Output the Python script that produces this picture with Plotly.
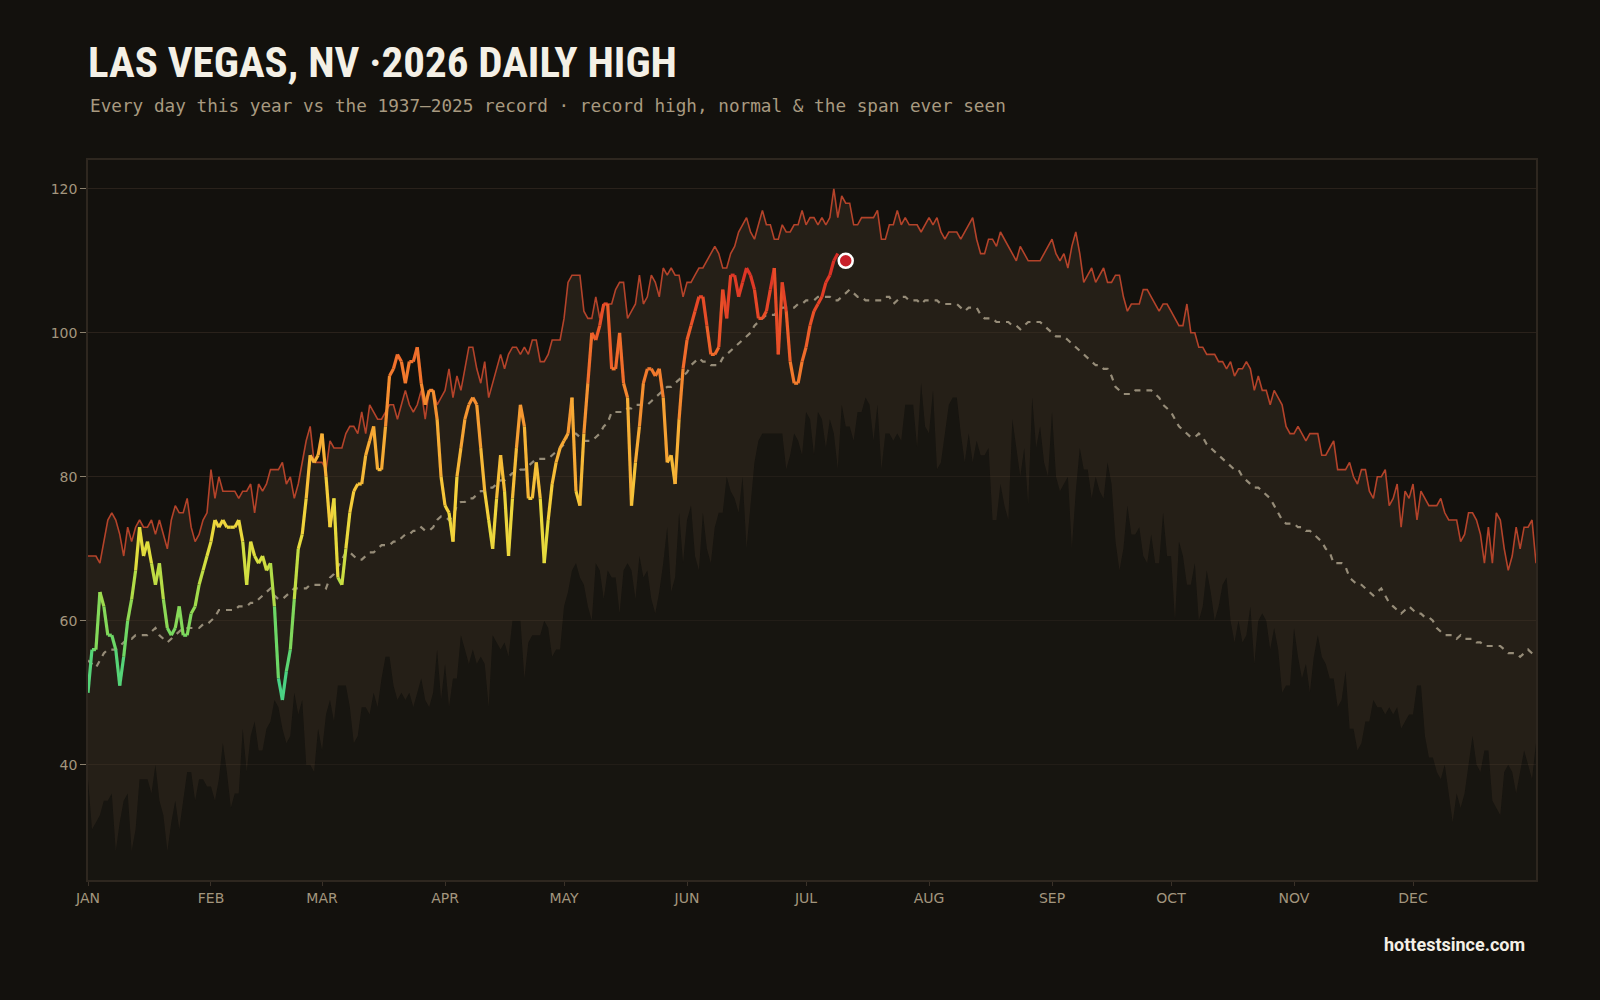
import plotly.graph_objects as go
from plotly.colors import sample_colorscale

# ---------------- data ----------------
MONTH_STARTS = [0, 31, 59, 90, 120, 151, 181, 212, 243, 273, 304, 334]
MONTH_LABELS = ["JAN", "FEB", "MAR", "APR", "MAY", "JUN",
                "JUL", "AUG", "SEP", "OCT", "NOV", "DEC"]

DAY_OF_YEAR = list(range(366))

RECORD_HIGH = [
    69, 69, 69, 68, 71, 74, 75, 74, 72, 69,
    73, 71, 73, 74, 73, 73, 74, 72, 74, 72,
    70, 74, 76, 75, 75, 77, 73, 71, 72, 74,
    75, 81, 77, 80, 78, 78, 78, 78, 77, 78,
    78, 79, 75, 79, 78, 79, 81, 81, 81, 82,
    79, 80, 77, 79, 82, 85, 87, 82, 82, 82,
    81, 85, 84, 84, 84, 86, 87, 87, 86, 89,
    86, 90, 89, 88, 88, 89, 90, 90, 88, 90,
    92, 90, 89, 90, 92, 88, 92, 92, 90, 91,
    92, 95, 91, 94, 92, 95, 98, 98, 95, 93,
    96, 91, 93, 95, 97, 95, 97, 98, 98, 97,
    98, 97, 99, 99, 96, 96, 97, 99, 99, 99,
    102, 107, 108, 108, 108, 103, 102, 102, 105, 102,
    104, 104, 104, 106, 107, 107, 102, 103, 104, 108,
    104, 105, 108, 107, 105, 109, 108, 109, 108, 108,
    105, 107, 107, 108, 109, 109, 110, 111, 112, 111,
    109, 109, 111, 112, 114, 115, 116, 114, 113, 115,
    117, 115, 115, 113, 113, 115, 114, 114, 115, 115,
    117, 115, 116, 116, 115, 116, 115, 116, 120, 116,
    119, 118, 118, 115, 115, 116, 116, 116, 116, 117,
    113, 113, 115, 115, 117, 115, 116, 115, 115, 115,
    114, 115, 116, 115, 116, 114, 113, 114, 114, 114,
    113, 114, 115, 116, 113, 111, 111, 113, 113, 112,
    114, 113, 112, 111, 110, 112, 111, 110, 110, 110,
    110, 111, 112, 113, 111, 110, 111, 109, 112, 114,
    111, 107, 108, 109, 107, 108, 109, 107, 107, 108,
    108, 105, 103, 104, 104, 104, 106, 106, 105, 104,
    103, 104, 104, 103, 102, 101, 101, 104, 100, 100,
    98, 98, 97, 97, 97, 96, 96, 95, 96, 94,
    95, 95, 96, 95, 92, 94, 92, 92, 90, 92,
    91, 90, 87, 86, 86, 87, 86, 85, 86, 86,
    86, 83, 83, 84, 85, 81, 81, 81, 82, 80,
    79, 81, 81, 78, 77, 80, 80, 81, 76, 77,
    79, 73, 78, 77, 79, 74, 78, 77, 76, 76,
    76, 77, 75, 74, 74, 74, 71, 72, 75, 75,
    74, 72, 68, 73, 68, 75, 74, 70, 67, 69,
    73, 70, 73, 73, 74, 68,
]

RECORD_LOW = [
    38, 31, 32, 33, 35, 35, 36, 28, 32, 35,
    36, 28, 31, 38, 38, 38, 36, 40, 35, 33,
    28, 32, 35, 31, 35, 39, 39, 35, 38, 38,
    37, 37, 35, 38, 43, 39, 34, 36, 36, 45,
    39, 44, 46, 42, 42, 45, 46, 49, 48, 45,
    43, 44, 50, 47, 49, 40, 40, 39, 45, 42,
    47, 49, 46, 51, 51, 51, 48, 43, 44, 48,
    48, 47, 50, 48, 52, 55, 55, 51, 49, 50,
    49, 50, 48, 50, 52, 49, 48, 50, 56, 49,
    54, 48, 52, 52, 58, 56, 54, 56, 54, 55,
    54, 48, 58, 57, 56, 57, 55, 60, 60, 60,
    52, 57, 58, 58, 58, 60, 59, 55, 56, 56,
    62, 64, 67, 68, 66, 65, 62, 60, 68, 67,
    63, 67, 66, 66, 61, 67, 68, 67, 63, 69,
    66, 67, 63, 61, 64, 68, 73, 64, 66, 75,
    68, 74, 76, 69, 67, 75, 70, 68, 73, 75,
    75, 80, 78, 77, 75, 80, 70, 76, 82, 85,
    86, 86, 86, 86, 86, 86, 81, 83, 86, 85,
    83, 89, 88, 83, 89, 88, 84, 88, 86, 81,
    90, 87, 87, 85, 89, 89, 91, 90, 85, 90,
    81, 86, 86, 85, 86, 85, 90, 90, 90, 84,
    93, 87, 86, 92, 81, 82, 86, 90, 91, 91,
    86, 82, 86, 82, 85, 83, 83, 84, 74, 74,
    79, 76, 74, 88, 84, 80, 84, 76, 91, 84,
    87, 82, 80, 89, 80, 78, 79, 80, 70, 78,
    84, 81, 81, 77, 80, 78, 77, 82, 79, 71,
    67, 70, 76, 72, 72, 73, 69, 68, 72, 68,
    68, 75, 69, 69, 60, 71, 69, 65, 65, 68,
    60, 62, 67, 64, 60, 62, 65, 66, 60, 57,
    60, 57, 58, 62, 54, 60, 61, 60, 56, 59,
    56, 50, 51, 51, 59, 55, 52, 54, 50, 55,
    58, 55, 54, 52, 52, 48, 49, 53, 45, 45,
    42, 43, 46, 46, 49, 48, 48, 47, 48, 47,
    48, 45, 46, 47, 47, 51, 51, 44, 41, 41,
    39, 38, 40, 36, 32, 36, 34, 36, 40, 44,
    40, 39, 42, 42, 35, 34, 33, 39, 40, 39,
    36, 39, 42, 40, 38, 43,
]

NORMAL_HIGH = [
    54.5, 54, 53.5, 54.5, 55.5, 56, 56, 56, 56.5, 57,
    57.5, 57.5, 58, 58, 58, 58, 58.5, 59, 58, 57.5,
    57, 57.5, 58, 58.5, 59, 59, 59, 59, 59, 59.5,
    59.5, 60, 60.5, 61.5, 61.5, 61.5, 61.5, 61.5, 62, 62,
    62, 62.5, 62.5, 63, 63.5, 64, 64.5, 63.5, 63, 63,
    63.5, 64, 64.5, 64.5, 64.5, 64.5, 65, 65, 65, 65,
    64.5, 66, 66.5, 67.5, 68.5, 69.5, 69.5, 69, 68.5, 68.5,
    69, 69.5, 69.5, 70, 70.5, 70.5, 70.5, 71, 71, 71.5,
    72, 72, 72.5, 72.5, 73, 72.5, 72.5, 73, 74, 74.5,
    74.5, 74, 74.5, 76, 76.5, 76.5, 77, 77, 77.5, 78,
    78, 78.5, 78.5, 79, 79.5, 79.5, 80, 80.5, 80.5, 81,
    81, 81.5, 82, 82.5, 82.5, 82.5, 82.5, 83, 83.5, 84,
    84.5, 86, 86, 86, 85.5, 85, 85, 85, 85.5, 86,
    87, 87.5, 89, 89, 89, 89, 89.5, 89.5, 90, 90,
    90, 90, 90.5, 91, 91.5, 92, 92.5, 92.5, 93, 93.5,
    94, 94.5, 95.5, 96, 96.5, 96, 96, 95.5, 95.5, 95.5,
    96.5, 97, 97.5, 98, 98.5, 99, 99.5, 100, 101, 101.5,
    102, 102.5, 102.5, 102.5, 103, 103.5, 103.5, 103.5, 103.5, 104,
    104, 104.5, 104.5, 104.5, 105, 105, 105, 105, 104.5, 104.5,
    105, 105.5, 106, 105.5, 105, 105, 104.5, 104.5, 104.5, 104.5,
    104.5, 105, 105, 104, 104.5, 105, 105, 104.5, 104.5, 104.5,
    104, 104.5, 104.5, 104.5, 104.5, 104, 104, 104, 104, 104,
    103.5, 103, 103.5, 103.5, 103.5, 102.5, 102, 102, 102, 101.5,
    101.5, 101.5, 101.5, 101, 101, 100.5, 101, 101.5, 101.5, 101.5,
    101.5, 101, 100.5, 100, 99.5, 99.5, 99.5, 99, 98.5, 98,
    97.5, 97, 96.5, 96, 95.5, 95.5, 95, 95, 94, 92.5,
    92, 91.5, 91.5, 91.5, 92, 92, 92, 92, 92, 91.5,
    91, 90, 89.5, 89, 88, 87, 86.5, 86, 85.5, 85.5,
    86, 85.5, 84.5, 84, 83.5, 83, 82.5, 82, 81.5, 81,
    81, 80, 79.5, 79, 78.5, 78.5, 78, 77.5, 77, 76,
    75, 74, 73.5, 73.5, 73.5, 73, 73, 72.5, 72.5, 72,
    71.5, 71, 70, 69.5, 68, 68, 68, 67.5, 66, 65.5,
    65, 65, 64.5, 64, 63.5, 64, 64.5, 63.5, 62.5, 62,
    61.5, 61, 61.5, 62, 61.5, 61, 61, 60.5, 60.5, 60,
    59, 58.5, 58, 58, 58, 57.5, 58, 57.5, 57.5, 57.5,
    57, 57, 56.5, 56.5, 56.5, 56.5, 56.5, 56, 55.5, 55.5,
    55.5, 55, 55.5, 56, 55.5, 55,
]

THIS_YEAR = [
    50, 56, 56, 64, 62, 58, 58, 56, 51, 55,
    60, 63, 67, 73, 69, 71, 68, 65, 68, 63,
    59, 58, 59, 62, 58, 58, 61, 62, 65, 67,
    69, 71, 74, 73, 74, 73, 73, 73, 74, 71,
    65, 71, 69, 68, 69, 67, 68, 62, 52, 49,
    53, 56, 63, 70, 72, 77, 83, 82, 83, 86,
    80, 73, 77, 66, 65, 70, 75, 78, 79, 79,
    83, 85, 87, 81, 81, 87, 94, 95, 97, 96,
    93, 96, 96, 98, 93, 90, 92, 92, 88, 80,
    76, 75, 71, 80, 84, 88, 90, 91, 90, 84,
    78, 74, 70, 77, 83, 78, 69, 77, 84, 90,
    87, 77, 77, 82, 77, 68, 74, 79, 82, 84,
    85, 86, 91, 78, 76, 86, 93, 100, 99, 101,
    104, 104, 95, 95, 100, 93, 91, 76, 82, 87,
    93, 95, 95, 94, 95, 91, 82, 83, 79, 88,
    95, 99, 101, 103, 105, 105, 101, 97, 97, 98,
    106, 102, 108, 108, 105, 107, 109, 108, 106, 102,
    102, 103, 106, 109, 97, 107, 103, 96, 93, 93,
    96, 98, 101, 103, 104, 105, 107, 108, 110, 111,
]

TODAY_DAY = 191
TODAY_VALUE = 110

TITLE = "LAS VEGAS, NV ·2026 DAILY HIGH"
SUBTITLE = "Every day this year vs the 1937–2025 record · record high, normal & the span ever seen"
FOOTER = "hottestsince.com"

# ---------------- style ----------------
BG = "#13110d"
TEMP_SCALE = [
    [0.00, "#3ccf92"],
    [0.12, "#62d66c"],
    [0.24, "#9fdb4c"],
    [0.33, "#dedf3e"],
    [0.43, "#f5d13c"],
    [0.55, "#f7b036"],
    [0.66, "#f58f30"],
    [0.77, "#f06a2b"],
    [0.88, "#e54527"],
    [1.00, "#d42626"],
]
T_MIN, T_MAX = 48, 112


def temp_color(v):
    t = (v - T_MIN) / (T_MAX - T_MIN)
    t = min(1.0, max(0.0, t))
    return sample_colorscale(TEMP_SCALE, [t])[0]


fig = go.Figure()

# lowest daily high ever (dark area)
fig.add_trace(go.Scatter(
    x=DAY_OF_YEAR, y=RECORD_LOW, mode="lines",
    line=dict(width=0, color="rgba(0,0,0,0)"),
    fill="tozeroy", fillcolor="rgba(28,25,20,0.55)",
    hoverinfo="skip", showlegend=False,
))
# span between lowest and record high
fig.add_trace(go.Scatter(
    x=DAY_OF_YEAR, y=RECORD_HIGH, mode="lines",
    line=dict(width=1.6, color="#b4432a"),
    fill="tonexty", fillcolor="rgba(56,46,33,0.5)",
    hoverinfo="skip", showlegend=False,
))
# normal
fig.add_trace(go.Scatter(
    x=DAY_OF_YEAR, y=NORMAL_HIGH, mode="lines",
    line=dict(width=2.2, color="#968c78", dash="6px,6px"),
    hoverinfo="skip", showlegend=False,
))
# this year, coloured by temperature
days_this = list(range(len(THIS_YEAR)))
for i in range(len(THIS_YEAR) - 1):
    mid = (THIS_YEAR[i] + THIS_YEAR[i + 1]) / 2
    fig.add_trace(go.Scatter(
        x=days_this[i:i + 2], y=THIS_YEAR[i:i + 2], mode="lines",
        line=dict(width=3.2, color=temp_color(mid)),
        hoverinfo="skip", showlegend=False,
    ))
# today marker
fig.add_trace(go.Scatter(
    x=[TODAY_DAY], y=[TODAY_VALUE], mode="markers",
    marker=dict(size=14, color="#c81f2a", line=dict(width=2.5, color="#ffffff")),
    hoverinfo="skip", showlegend=False,
))

fig.update_layout(
    width=1600, height=1000,
    paper_bgcolor=BG, plot_bgcolor=BG,
    margin=dict(l=88, r=64, t=160, b=120),
    font=dict(family="DejaVu Sans, sans-serif", color="#a3967e", size=14),
    title=dict(
        text=TITLE, xref="container", yref="container",
        x=88 / 1600, xanchor="left", y=1 - 62 / 1000, yanchor="middle",
        font=dict(family="Liberation Sans Narrow, Roboto Condensed, Roboto, sans-serif",
                  size=43, color="#f4f0e6", weight="bold"),
    ),
    xaxis=dict(
        range=[0, 365], tickvals=MONTH_STARTS, ticktext=MONTH_LABELS,
        showgrid=False, zeroline=False,
        ticks="outside", ticklen=4, tickcolor="#3a3128",
        showline=True, linecolor="#2e271f", linewidth=1.5, mirror=True,
        tickfont=dict(size=14, color="#a3967e"),
    ),
    yaxis=dict(
        range=[24, 124], tickvals=[40, 60, 80, 100, 120],
        showgrid=True, gridcolor="#2a221b", gridwidth=1, zeroline=False,
        ticks="outside", ticklen=6, tickcolor="#8a7f6c",
        showline=True, linecolor="#2e271f", linewidth=1.5, mirror=True,
        tickfont=dict(size=14, color="#a3967e"),
    ),
    annotations=[
        dict(text=SUBTITLE, xref="paper", yref="paper", x=0, xanchor="left",
             y=1 + (160 - 106) / 720, yanchor="middle", showarrow=False,
             font=dict(family="DejaVu Sans Mono, monospace", size=17.7, color="#a89a80")),
        dict(text="<b>" + FOOTER + "</b>", xref="paper", yref="paper",
             x=1 - 9 / 1448, xanchor="right", y=-(945 - 880) / 720, yanchor="middle",
             showarrow=False,
             font=dict(family="Roboto, sans-serif", size=18, color="#f4f0e6")),
    ],
)

fig.write_html("out.html")
